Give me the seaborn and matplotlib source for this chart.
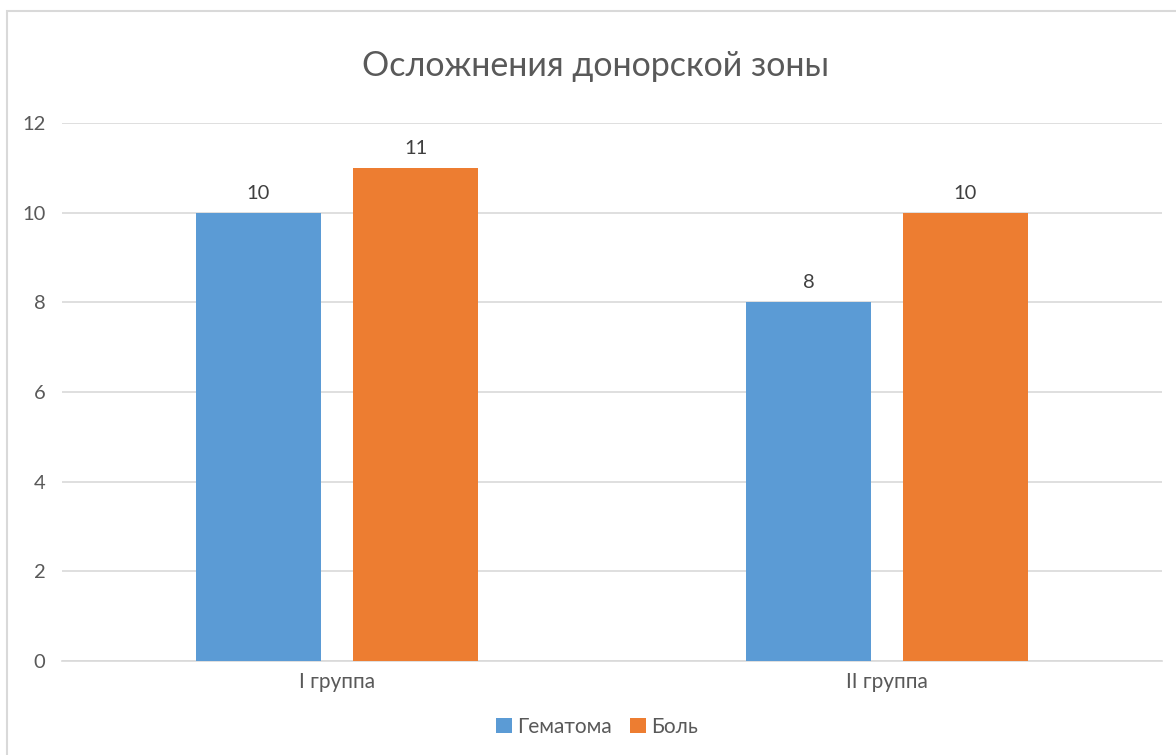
import matplotlib
matplotlib.use("Agg")
import matplotlib.pyplot as plt
import seaborn as sns
import pandas as pd
from matplotlib.patches import Rectangle

categories = ["I группа", "II группа"]
series_names = ["Гематома", "Боль"]
hematoma = [10, 8]
pain = [11, 10]
yticks = [0, 2, 4, 6, 8, 10, 12]

df = pd.DataFrame({
    "group": categories * 2,
    "series": [series_names[0]] * 2 + [series_names[1]] * 2,
    "value": hematoma + pain,
})

sns.set_theme(style="white")
plt.rcParams["font.family"] = ["Lato", "DejaVu Sans"]

text_color = "#595959"
grid_color = "#D9D9D9"
palette = {"Гематома": "#5B9BD5", "Боль": "#ED7D31"}

fig = plt.figure(figsize=(11.76, 7.55), dpi=100)
ax = fig.add_axes([62 / 1176, 1 - 661 / 755, 1100 / 1176, (661 - 123) / 755])

sns.barplot(data=df, x="group", y="value", hue="series", palette=palette,
            width=0.571, gap=0.21, ax=ax, saturation=1, legend=True, zorder=3,
            linewidth=0, edgecolor="none")

for c in ax.containers:
    ax.bar_label(c, labels=[f"{int(v)}" for v in c.datavalues], padding=8,
                 fontsize=14.5, color="#404040")

ax.set_xlim(-0.5, 1.5)
ax.set_ylim(0, 12)
ax.set_yticks(yticks)
ax.set_yticklabels([str(t) for t in yticks])
ax.yaxis.grid(True, color=grid_color, linewidth=1.2, zorder=0)
ax.set_axisbelow(True)
for s in ["top", "right", "left"]:
    ax.spines[s].set_visible(False)
ax.spines["bottom"].set_color(grid_color)
ax.spines["bottom"].set_linewidth(1.2)
ax.tick_params(axis="both", length=0, labelcolor=text_color)
ax.tick_params(axis="y", pad=12, labelsize=14.5)
ax.tick_params(axis="x", pad=8, labelsize=15)
ax.set_xlabel("")
ax.set_ylabel("")

fig.text(596 / 1176, 1 - 66 / 755, "Осложнения донорской зоны", ha="center",
         va="center", fontsize=24.5, color=text_color)

handles, labels = ax.get_legend_handles_labels()
ax.legend_.remove()
fig.legend(handles, labels, loc="center", bbox_to_anchor=(597 / 1176, 1 - 727 / 755),
           ncol=2, frameon=False, fontsize=15, labelcolor=text_color,
           handlelength=0.75, handleheight=0.75, handletextpad=0.25, columnspacing=0.9)

fig.patches.append(Rectangle((7 / 1176, -0.1), 1.2, 1 - 11 / 755 + 0.1,
                             transform=fig.transFigure, fill=False,
                             edgecolor=grid_color, linewidth=1.5))

fig.savefig("out.png", dpi=100, facecolor="white")
